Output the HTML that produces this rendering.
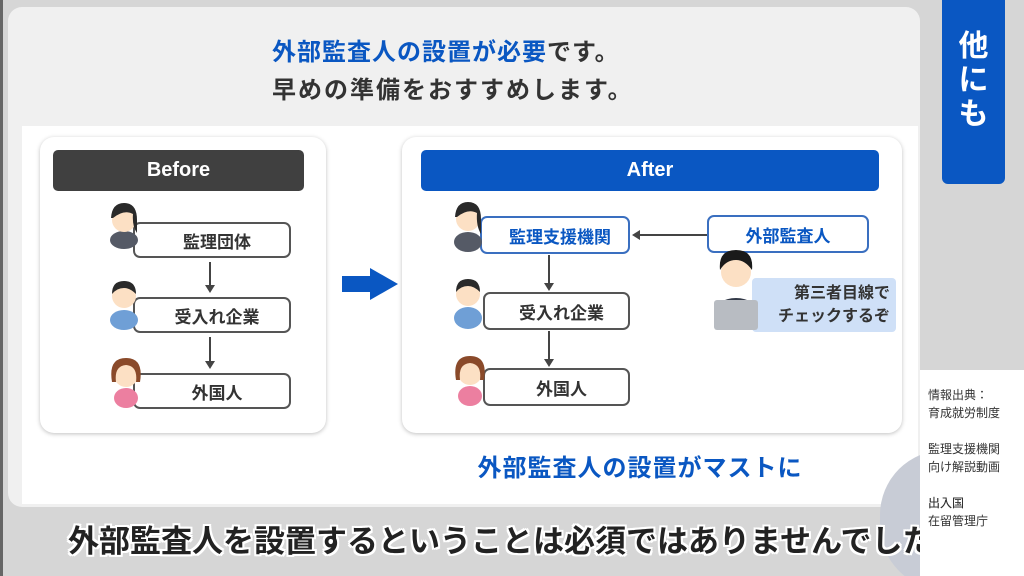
<!DOCTYPE html>
<html><head><meta charset="utf-8"><style>
*{margin:0;padding:0;box-sizing:border-box}
html,body{width:1024px;height:576px;overflow:hidden}
body{background:#d6d6d6;font-family:"Liberation Sans","Noto Sans CJK JP",sans-serif;position:relative}
.a{position:absolute}
.box{position:absolute;background:#fff;border:2px solid #555;border-radius:7px;display:flex;align-items:center;justify-content:center;font-size:17px;font-weight:bold;color:#333;padding-left:10px}
.vl{position:absolute;width:2px;background:#444}
.ah{position:absolute;width:0;height:0;border-left:5px solid transparent;border-right:5px solid transparent;border-top:8px solid #444}
</style></head><body>
<div class="a" style="left:0;top:0;width:3px;height:576px;background:#666"></div>
<div class="a" style="left:8px;top:7px;width:912px;height:500px;background:#f0f0f0;border-radius:14px"></div>
<div class="a" style="left:272px;top:32px;font-size:24px;font-weight:bold;color:#0a57c2;letter-spacing:1px">外部監査人の設置が必要<span style="color:#333">です。</span></div>
<div class="a" style="left:272px;top:70px;font-size:24px;font-weight:bold;color:#333;letter-spacing:2px">早めの準備をおすすめします。</div>
<div class="a" style="left:22px;top:126px;width:896px;height:378px;background:#fff"></div>
<div class="a" style="left:40px;top:137px;width:286px;height:296px;background:#fff;border-radius:14px;box-shadow:0 1px 4px rgba(0,0,0,.25)"></div>
<div class="a" style="left:402px;top:137px;width:500px;height:296px;background:#fff;border-radius:14px;box-shadow:0 1px 4px rgba(0,0,0,.25)"></div>
<div class="a" style="left:53px;top:150px;width:251px;height:41px;background:#404040;border-radius:5px;color:#fff;font-size:20px;font-weight:bold;text-align:center;line-height:41px">Before</div>
<div class="a" style="left:421px;top:150px;width:458px;height:41px;background:#0a57c2;border-radius:5px;color:#fff;font-size:20px;font-weight:bold;text-align:center;line-height:41px">After</div>

<div class="box" style="left:133px;top:222px;width:158px;height:36px">監理団体</div>
<div class="box" style="left:133px;top:297px;width:158px;height:36px">受入れ企業</div>
<div class="box" style="left:133px;top:373px;width:158px;height:36px">外国人</div>
<div class="vl" style="left:209px;top:262px;height:24px"></div><div class="ah" style="left:205px;top:285px"></div>
<div class="vl" style="left:209px;top:337px;height:25px"></div><div class="ah" style="left:205px;top:361px"></div>

<div class="box" style="left:480px;top:216px;width:150px;height:38px;border-color:#3a6fc0;color:#0a57c2">監理支援機関</div>
<div class="box" style="left:483px;top:292px;width:147px;height:38px">受入れ企業</div>
<div class="box" style="left:483px;top:368px;width:147px;height:38px">外国人</div>
<div class="vl" style="left:548px;top:255px;height:29px"></div><div class="ah" style="left:544px;top:283px"></div>
<div class="vl" style="left:548px;top:331px;height:29px"></div><div class="ah" style="left:544px;top:359px"></div>
<div class="a" style="left:640px;top:234px;width:68px;height:2px;background:#444"></div>
<div class="a" style="left:632px;top:230px;width:0;height:0;border-top:5px solid transparent;border-bottom:5px solid transparent;border-right:8px solid #444"></div>
<div class="box" style="left:707px;top:215px;width:162px;height:38px;border-color:#3a6fc0;color:#0a57c2;padding-left:0">外部監査人</div>
<div class="a" style="left:752px;top:278px;width:144px;height:54px;background:#cfe0f7;border-radius:4px;font-size:16px;font-weight:bold;color:#333;text-align:right;padding:4px 6px;line-height:23px">第三者目線で<br>チェックするぞ</div>

<div class="a" style="left:342px;top:276px;width:28px;height:16px;background:#0a57c2"></div>
<div class="a" style="left:370px;top:268px;width:0;height:0;border-top:16px solid transparent;border-bottom:16px solid transparent;border-left:28px solid #0a57c2"></div>

<svg class="a" style="left:0;top:0" width="1024" height="576">
<g><ellipse cx="124" cy="240" rx="14" ry="9" fill="#555a66"/><circle cx="124" cy="220" r="12" fill="#fce0c4"/><path d="M111 218 Q112 203 124 203 Q137 203 137 220 L137 233 Q132 226 133 214 Q124 209 113 218Z" fill="#2a2a2a"/></g>
<g><ellipse cx="124" cy="320" rx="14" ry="10" fill="#6f9fd6"/><circle cx="124" cy="296" r="12" fill="#fce0c4"/><path d="M112 294 Q112 281 124 281 Q136 281 136 294 Q130 288 124 288 Q117 288 112 294Z" fill="#2a2a2a"/></g>
<g><ellipse cx="126" cy="398" rx="12" ry="10" fill="#ec7fa0"/><circle cx="126" cy="375" r="12" fill="#fce0c4"/><path d="M112 382 Q108 358 126 358 Q144 358 140 382 L136 382 Q138 366 126 365 Q114 366 116 382Z" fill="#8a4a2a"/></g>
<g><ellipse cx="468" cy="242" rx="14" ry="10" fill="#555a66"/><circle cx="468" cy="219" r="12" fill="#fce0c4"/><path d="M455 217 Q456 202 468 202 Q481 202 481 219 L481 234 Q476 226 477 213 Q468 208 457 217Z" fill="#2a2a2a"/></g>
<g><ellipse cx="468" cy="318" rx="14" ry="11" fill="#6f9fd6"/><circle cx="468" cy="294" r="12" fill="#fce0c4"/><path d="M456 292 Q456 279 468 279 Q480 279 480 292 Q474 286 468 286 Q461 286 456 292Z" fill="#2a2a2a"/></g>
<g><ellipse cx="470" cy="396" rx="12" ry="10" fill="#ec7fa0"/><circle cx="470" cy="373" r="12" fill="#fce0c4"/><path d="M456 380 Q452 356 470 356 Q488 356 484 380 L480 380 Q482 364 470 363 Q458 364 460 380Z" fill="#8a4a2a"/></g>
<g><ellipse cx="736" cy="312" rx="22" ry="14" fill="#333a48"/><circle cx="736" cy="272" r="15" fill="#fce0c4"/><path d="M720 270 Q718 250 736 250 Q754 250 752 270 Q745 260 736 260 Q726 260 720 270Z" fill="#1a1a1a"/><rect x="714" y="300" width="44" height="30" rx="3" fill="#b8bcc2"/></g>
</svg>

<div class="a" style="left:0;top:448px;width:920px;text-align:center;padding-left:360px;font-size:24px;font-weight:bold;color:#0a57c2;letter-spacing:1px">外部監査人の設置がマストに</div>

<div class="a" style="left:942px;top:0;width:63px;height:184px;background:#0a57c2;border-radius:0 0 6px 6px"></div>
<div class="a" style="left:942px;top:30px;width:63px;color:#fff;font-size:30px;font-weight:bold;text-align:center;line-height:34px">他<br>に<br>も</div>

<div class="a" style="left:880px;top:450px;width:130px;height:140px;border-radius:65px;background:#c8ccd6"></div>
<div class="a" style="left:920px;top:370px;width:104px;height:206px;background:#fff"></div>
<div class="a" style="left:928px;top:386px;font-size:12px;color:#333;line-height:18px">情報出典：<br>育成就労制度<br><br>監理支援機関<br>向け解説動画<br><br>出入国<br>在留管理庁</div>

<div class="a" style="left:68px;top:516px;font-size:31px;font-weight:bold;color:#222;white-space:nowrap;text-shadow:2px 0 #fff,-2px 0 #fff,0 2px #fff,0 -2px #fff,2px 2px #fff,-2px -2px #fff,2px -2px #fff,-2px 2px #fff">外部監査人を設置するということは必須ではありませんでした</div>
<div class="a" style="left:920px;top:510px;width:104px;height:66px;background:#fff"></div>
<div class="a" style="left:928px;top:494px;font-size:12px;color:#333;line-height:18px">出入国<br>在留管理庁</div>
</body></html>
